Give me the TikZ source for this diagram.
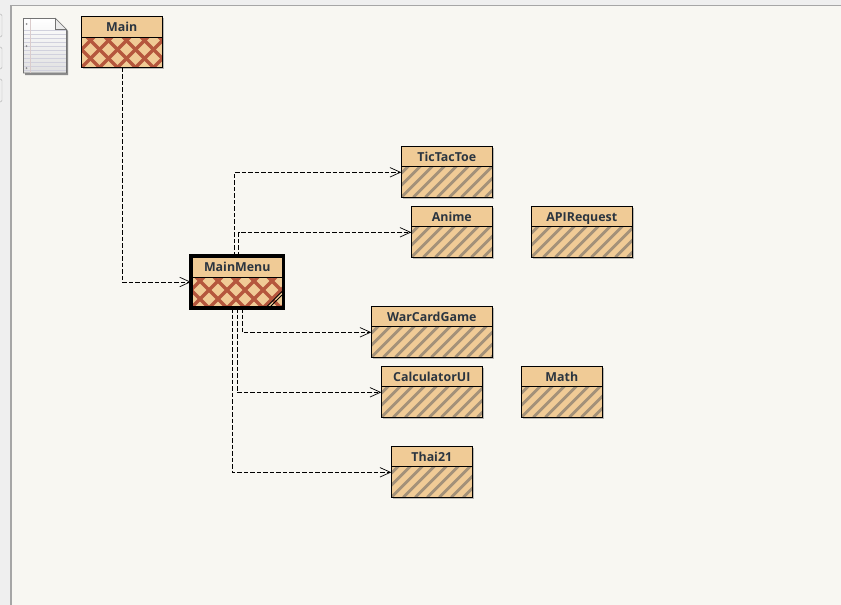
\documentclass[tikz,border=0pt]{standalone}
\usepackage{fontspec}
\setmainfont{Open Sans}
\usetikzlibrary{arrows.meta,positioning,shadows}
\definecolor{canvasbg}{HTML}{F8F7F2}
\definecolor{framebg}{HTML}{EFEFEF}
\definecolor{classfill}{HTML}{F0CB96}
\definecolor{hatchgray}{HTML}{A39179}
\definecolor{hatchred}{HTML}{B5573D}
\definecolor{classtext}{HTML}{2B3540}
\tikzset{
  classhead/.style={draw=black,fill=classfill,line width=1pt,anchor=north west,outer sep=0pt,
    minimum height=20.5pt,inner sep=0pt,text=classtext,font=\fontsize{12.4}{14}\selectfont\bfseries,
    text height=10pt,text depth=.5pt,
    drop shadow={shadow xshift=1.5pt,shadow yshift=-1.5pt,fill=black,opacity=.25}},
  classbody/.style={draw=black,fill=classfill,line width=1pt,outer sep=0pt,inner sep=0pt,minimum height=30.5pt,
    drop shadow={shadow xshift=1.5pt,shadow yshift=-1.5pt,fill=black,opacity=.25},
    path picture={
      \foreach \i in {-6,...,14}
        \draw[hatchgray,line width=2.8pt] ([xshift=\i*12pt]path picture bounding box.south west) -- ++(60pt,60pt);
    }},
  crossbody/.style={draw=black,fill=classfill,line width=1pt,outer sep=0pt,inner sep=0pt,
    drop shadow={shadow xshift=1.5pt,shadow yshift=-1.5pt,fill=black,opacity=.25},
    path picture={
      \foreach \i in {-6,...,12} {
        \draw[hatchred,line width=3.2pt] ([xshift=\i*18pt]path picture bounding box.south west) -- ++(60pt,60pt);
        \draw[hatchred,line width=3.2pt] ([xshift=\i*18pt]path picture bounding box.south west) -- ++(-60pt,60pt);
      }
    }},
  dep/.style={draw=black,line width=.8pt,dash pattern=on 4.5pt off 2pt,
    -{Straight Barb[length=10.5pt,width=9.5pt,line width=.7pt]}}
}
% one class: name, x, y, width, label
\newcommand{\umlclass}[5]{
  \node[classhead,minimum width=#4pt] (#1) at (#2,#3) {#5};
  \node[classbody,minimum width=#4pt,below=0pt of #1] (#1-body) {};
}
\begin{document}
\begin{tikzpicture}[x=1pt,y=-1pt]
\useasboundingbox (0,0) rectangle (841,605);
% window frame
\fill[framebg] (0,0) rectangle (841,605);
\fill[canvasbg] (11,6) rectangle (841,605);
\draw[gray!70,line width=1.4pt] (11,605) -- (11,5.5) -- (841,5.5);
\draw[gray!60,fill=framebg,rounded corners=1.5pt] (-4,14) rectangle (2,37);
\draw[gray!60,fill=framebg,rounded corners=1.5pt] (-4,47) rectangle (2,69);
\draw[gray!60,fill=framebg,rounded corners=1.5pt] (-4,79) rectangle (2,102);
% note sheet
\fill[black!45] (25,20) -- (57,20) -- (68,31) -- (68,75) -- (25,75) -- cycle;
\shade[top color=white,bottom color=black!12,draw=black!55,line width=.7pt]
  (23.5,18.5) -- (55.5,18.5) -- (66.5,29.5) -- (66.5,73) -- (23.5,73) -- cycle;
\foreach \k in {1,...,11}
  \draw[blue!25!black!18,line width=.7pt] (24,26+\k*4) -- (66,26+\k*4);
\draw[red!30!black!20,line width=.7pt] (30.5,19) -- (30.5,72.5);
\foreach \k in {24,46,68}
  \fill[black!45] (26.5,\k) circle (1pt);
\draw[black!55,fill=black!8,line width=.7pt] (55.5,18.5) -- (66.5,29.5) -- (55.5,29.5) -- cycle;
% classes
\umlclass{tictactoe}{401.3}{146.3}{91}{TicTacToe}
\umlclass{anime}{411.3}{206.3}{81}{Anime}
\umlclass{apirequest}{531.3}{206.3}{101}{APIRequest}
\umlclass{warcardgame}{371.3}{306.3}{121}{WarCardGame}
\umlclass{calculatorui}{381.3}{366.3}{101}{CalculatorUI}
\umlclass{mathclass}{521.3}{366.3}{81}{Math}
\umlclass{thaitwentyone}{391.3}{446.3}{81}{Thai21}
% main
\node[classhead,minimum width=80.5pt] (main) at (81.5,16.5) {Main};
\node[crossbody,minimum width=80.5pt,minimum height=30.5pt,below=0pt of main] (main-body) {};
% selected one
\node[classhead,draw=none,minimum width=92.5pt,minimum height=21pt] (mainmenu) at (191,256) {MainMenu};
\node[crossbody,minimum width=92.5pt,minimum height=31pt,below=0pt of mainmenu] (mainmenu-body) {};
\draw[black,line width=.9pt] (267,306.5) -- (282,291.5) (270.5,306.5) -- (282,295);
\draw[black,line width=3.4pt] (mainmenu.north west) rectangle (mainmenu-body.south east);
% connectors
\draw[dep] ([xshift=.7pt]main-body.south) |- ([yshift=-5pt]mainmenu.south west);
\draw[dep] ([xshift=-3pt]mainmenu.north) |- ([yshift=-26pt]tictactoe.north west);
\draw[dep] ([xshift=1.5pt]mainmenu.north) |- ([yshift=-26pt]anime.north west);
\draw[dep] ([xshift=5pt]mainmenu-body.south) |- ([yshift=-26pt]warcardgame.north west);
\draw[dep] ([xshift=0pt]mainmenu-body.south) |- ([yshift=-26pt]calculatorui.north west);
\draw[dep] ([xshift=-4.5pt]mainmenu-body.south) |- ([yshift=-26pt]thaitwentyone.north west);
\end{tikzpicture}
\end{document}
